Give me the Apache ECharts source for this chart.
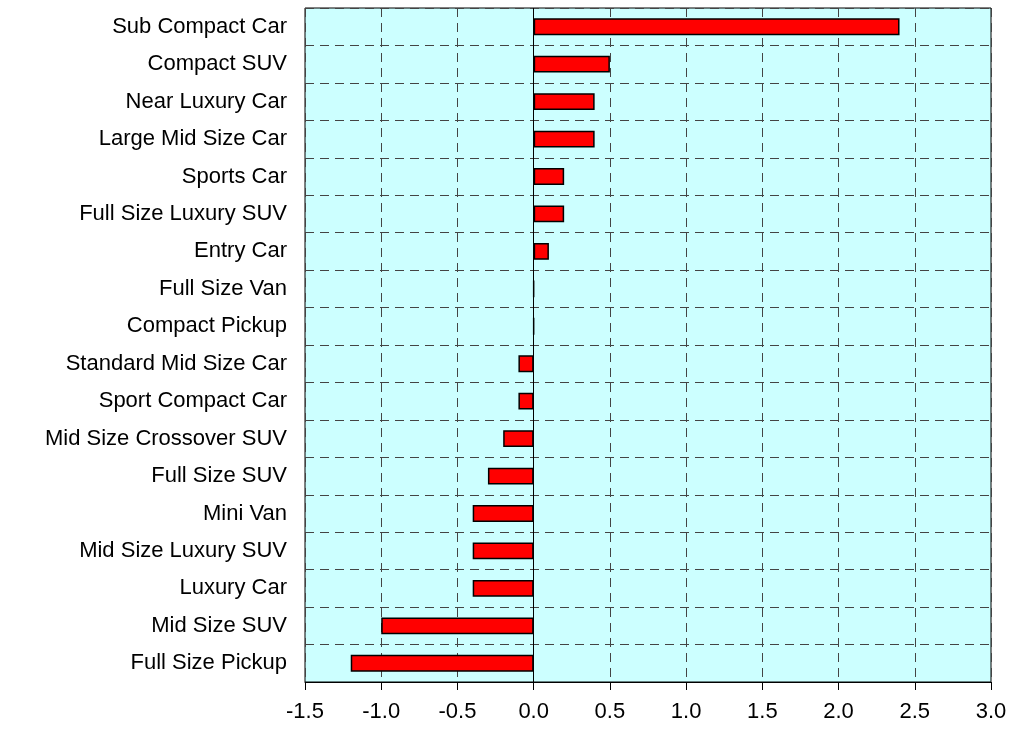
<!DOCTYPE html>
<html>
<head>
<meta charset="utf-8">
<script src="https://cdn.jsdelivr.net/npm/echarts@6/dist/echarts.min.js"></script>
<style>html,body{margin:0;padding:0;background:#fff;}#c{width:1013px;height:729px;}</style>
</head>
<body>
<div id="c"></div>
<script>
const categories = ["Sub Compact Car","Compact SUV","Near Luxury Car","Large Mid Size Car","Sports Car","Full Size Luxury SUV","Entry Car","Full Size Van","Compact Pickup","Standard Mid Size Car","Sport Compact Car","Mid Size Crossover SUV","Full Size SUV","Mini Van","Mid Size Luxury SUV","Luxury Car","Mid Size SUV","Full Size Pickup"];
const values = [2.4,0.5,0.4,0.4,0.2,0.2,0.1,0,0,-0.1,-0.1,-0.2,-0.3,-0.4,-0.4,-0.4,-1.0,-1.2];
const xMin = -1.5, xMax = 3.0, xStep = 0.5;

const chart = echarts.init(document.getElementById('c'));
chart.setOption({
  animation: false,
  grid: {left: 305, right: 22, top: 8, bottom: 47, show: true, backgroundColor: '#CCFFFF', borderColor: '#000', borderWidth: 1},
  xAxis: {
    type: 'value', min: xMin, max: xMax, interval: xStep,
    axisLine: {show: true, onZero: false, lineStyle: {color: '#000'}},
    axisTick: {show: true, length: 8, lineStyle: {color: '#000'}},
    axisLabel: {color: '#000', fontSize: 22, fontFamily: 'Liberation Sans, Arial', margin: 19, formatter: v => v.toFixed(1)},
    splitLine: {show: true, lineStyle: {color: '#444', type: [9, 6], width: 1}}
  },
  yAxis: {
    type: 'category', data: categories, inverse: true,
    axisLine: {show: false},
    axisTick: {show: false},
    axisLabel: {color: '#000', fontSize: 22, fontFamily: 'Liberation Sans, Arial', margin: 18},
    splitLine: {show: true, lineStyle: {color: '#444', type: [9, 6], width: 1}}
  },
  series: [{
    type: 'bar', data: values, barWidth: '45%',
    itemStyle: {color: '#FF0000', borderColor: '#000', borderWidth: 1.5},
    markLine: {silent: true, symbol: 'none', label: {show: false}, lineStyle: {color: '#000', type: 'solid', width: 1}, data: [{xAxis: 0}]}
  }]
});
</script>
</body>
</html>
